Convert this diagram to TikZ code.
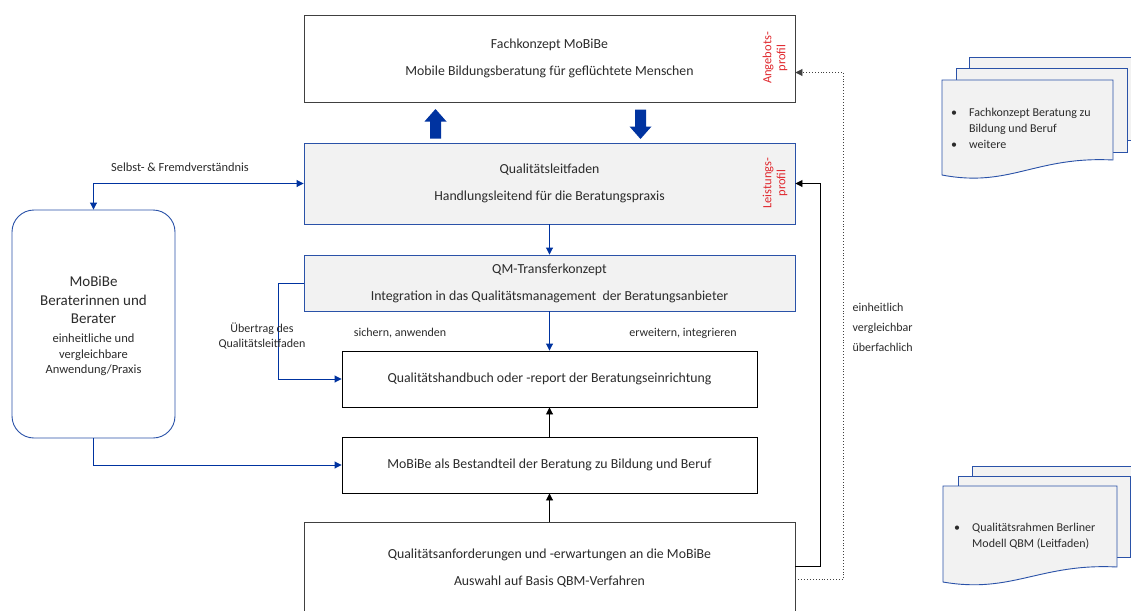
\documentclass[tikz,border=0pt]{standalone}
\usepackage{fontspec}
\setmainfont{Carlito}
\usetikzlibrary{arrows.meta,positioning,calc}
\definecolor{bblue}{HTML}{2A52A8}
\definecolor{ablue}{HTML}{0033A0}
\definecolor{lgray}{HTML}{F2F2F2}
\definecolor{dgray}{HTML}{404040}
\definecolor{txt}{HTML}{2B2B2B}
\definecolor{pred}{HTML}{E0282E}
\tikzset{
  x=1pt,y=-1pt,
  every node/.style={text=txt},
  plainbox/.style={draw=dgray,line width=0.9pt,fill=white,minimum width=491pt,inner sep=0pt},
  graybox/.style={draw=bblue,line width=0.9pt,fill=lgray,minimum width=491pt,inner sep=0pt},
  smallbox/.style={draw=black,line width=0.9pt,fill=white,minimum width=415pt,minimum height=56pt,inner sep=0pt},
  maintext/.style={font=\fontsize{13.8}{27}\selectfont,align=center},
  smalltext/.style={font=\fontsize{12}{15}\selectfont},
  profil/.style={text=pred,rotate=90,align=center,font=\fontsize{12.5}{14}\selectfont},
  bconn/.style={draw=ablue,line width=0.9pt,-{Triangle[length=7pt,width=7pt]}},
  kconn/.style={draw=black,line width=0.9pt,-{Triangle[length=7pt,width=7pt]}},
  dconn/.style={draw=dgray,line width=0.9pt,dotted,-{Triangle[length=7pt,width=7pt]}},
  docshape/.style={draw=bblue,line width=0.9pt,fill=lgray},
  bigarrow/.style={fill=ablue,draw=none},
}
\begin{document}
\begin{tikzpicture}
\useasboundingbox (0,0) rectangle (1131,610);
\clip (0,0) rectangle (1131,610);
\fill[white] (0,0) rectangle (1131,610);

% main boxes
\node[plainbox,minimum height=87pt,maintext] (fk) at (549.5,58.5)
  {Fachkonzept MoBiBe\\Mobile Bildungsberatung für geflüchtete Menschen};
\node[graybox,minimum height=81pt,maintext] (ql) at (549.5,183.5)
  {Qualitätsleitfaden\\Handlungsleitend für die Beratungspraxis};
\node[graybox,minimum height=56pt,maintext] (qm) at (549.5,283)
  {QM-Transferkonzept\\Integration in das Qualitätsmanagement\ \ der Beratungsanbieter};
\node[smallbox,font=\fontsize{13.8}{16}\selectfont] (hb) at (549.5,379)
  {Qualitätshandbuch oder -report der Beratungseinrichtung};
\node[smallbox,font=\fontsize{13.8}{16}\selectfont] (mb) at (549.5,465)
  {MoBiBe als Bestandteil der Beratung zu Bildung und Beruf};
\node[plainbox,minimum height=120pt] (an) at (549.5,582) {};
\node[maintext] (antext) at (549.5,568)
  {Qualitätsanforderungen und -erwartungen an die MoBiBe\\Auswahl auf Basis QBM-Verfahren};

% red profile labels
\node[profil] (p1) at (775,58) {Angebots-\\profil};
\node[profil] (p2) at (775,183) {Leistungs-\\profil};

% left rounded box
\node[draw=bblue,line width=0.9pt,fill=white,rounded corners=22pt,minimum width=163pt,minimum height=228pt] (lb) at (93.5,324) {};
\node[align=center,font=\fontsize{15}{18.5}\selectfont] (lbt1) at (93.5,300) {MoBiBe\\Beraterinnen und\\Berater};
\node[align=center,font=\fontsize{12.5}{15.5}\selectfont] (lbt2) at (93.5,355) {einheitliche und\\vergleichbare\\Anwendung/Praxis};

% block arrows
\coordinate (ua) at (435.5,124);
\coordinate (da) at (640.5,124);
\fill[bigarrow] ($(ua)+(-5.5,14.5)$) -- ($(ua)+(5.5,14.5)$) -- ($(ua)+(5.5,-2.5)$) -- ($(ua)+(11,-2.5)$) -- ($(ua)+(0,-15)$) -- ($(ua)+(-11,-2.5)$) -- ($(ua)+(-5.5,-2.5)$) -- cycle;
\fill[bigarrow] ($(da)+(-5.5,-14.5)$) -- ($(da)+(5.5,-14.5)$) -- ($(da)+(5.5,2.5)$) -- ($(da)+(11,2.5)$) -- ($(da)+(0,15)$) -- ($(da)+(-11,2.5)$) -- ($(da)+(-5.5,2.5)$) -- cycle;

% connectors
\draw[bconn,{Triangle[length=7pt,width=7pt]}-{Triangle[length=7pt,width=7pt]}] (lb.north) |- (ql.west);
\node[smalltext,font=\fontsize{12.4}{15}\selectfont] (sf) at (180,167) {Selbst- \& Fremdverständnis};
\draw[bconn] (lb.south) |- (mb.west);
\draw[bconn] (ql.south) -- (qm.north);
\draw[bconn] (qm.south) -- (hb.north);
\draw[bconn] (qm.west) -- ++(-25,0) |- (hb.west);
\draw[kconn] (mb.north) -- (hb.south);
\draw[kconn] (an.north) -- (mb.south);
\draw[kconn] ([yshift=-45pt]an.north east) -- ++(25,0) |- (ql.east);
\draw[dconn] ([yshift=-58pt]an.north east) -- ++(48,0) |- ([yshift=-14pt]fk.east);

% labels
\node[align=center,font=\fontsize{12}{15}\selectfont] (ue) at (262,336) {Übertrag des\\Qualitätsleitfaden};
\node[smalltext] (sa) at (400,333) {sichern, anwenden};
\node[smalltext] (ei) at (683,333) {erweitern, integrieren};
\node[anchor=west,align=left,font=\fontsize{12}{20}\selectfont] (ev) at (849,327) {einheitlich\\vergleichbar\\überfachlich};

% document stack 1
\draw[docshape] (969,57) rectangle (1145,140);
\draw[docshape] (956,68) rectangle (1127,152);
\draw[docshape] (942,80) -- (1113,80) -- (1113,160) .. controls (1035,156) and (1010,188) .. (942,175) -- cycle;
\node[anchor=north west,inner sep=0pt,font=\fontsize{12}{16}\selectfont] (d1) at (951,105)
  {\begin{tabular}{@{}l@{\hspace{12pt}}l@{}}\textbullet & Fachkonzept Beratung zu\\ & Bildung und Beruf\\ \textbullet & weitere\end{tabular}};

% document stack 2
\draw[docshape] (972,466) rectangle (1145,548);
\draw[docshape] (958,476) rectangle (1130,557);
\draw[docshape] (943,486) -- (1117,486) -- (1117,567) .. controls (1040,563) and (1012,594) .. (943,582) -- cycle;
\node[anchor=north west,inner sep=0pt,font=\fontsize{12}{16}\selectfont] (d2) at (954,520)
  {\begin{tabular}{@{}l@{\hspace{12pt}}l@{}}\textbullet & Qualitätsrahmen Berliner\\ & Modell QBM (Leitfaden)\end{tabular}};
\end{tikzpicture}
\end{document}
